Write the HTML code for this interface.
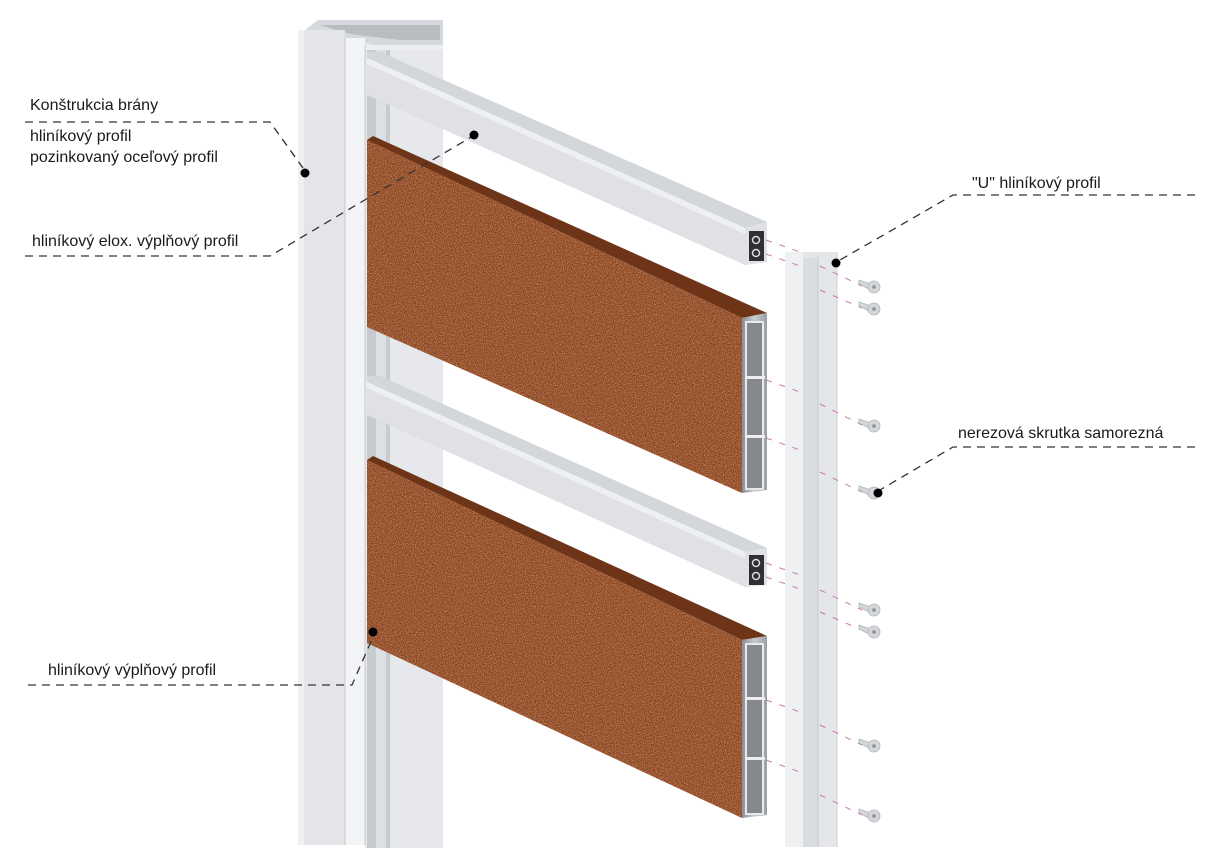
<!DOCTYPE html>
<html><head><meta charset="utf-8"><style>
html,body{margin:0;padding:0;background:#fff;}
svg{display:block;}
text{font-family:"Liberation Sans",sans-serif;font-size:16px;fill:#1a1a1a;}
</style></head><body>
<svg width="1224" height="864" viewBox="0 0 1224 864" xmlns="http://www.w3.org/2000/svg">
<defs>
<filter id="rust" x="0" y="0" width="100%" height="100%">
<feTurbulence type="fractalNoise" baseFrequency="0.9" numOctaves="2" seed="3" result="n"/>
<feColorMatrix in="n" type="matrix" values="0 0 0 0 0.72  0 0 0 0 0.36  0 0 0 0 0.16  0 0 0 1.4 -0.55" result="c"/>
<feComposite in="c" in2="SourceGraphic" operator="in" result="d"/>
<feMerge><feMergeNode in="SourceGraphic"/><feMergeNode in="d"/></feMerge>
</filter>
<linearGradient id="endg" x1="0" x2="1"><stop offset="0" stop-color="#8a8d92"/><stop offset="0.5" stop-color="#c9ccd0"/><stop offset="1" stop-color="#9a9da2"/></linearGradient>
</defs>

<!-- back post -->
<rect x="365" y="40" width="78" height="808" fill="#e6e8eb"/>
<rect x="367" y="40" width="23" height="808" fill="#c7cacf"/>
<rect x="376" y="40" width="10" height="808" fill="#dcdfe3"/>
<!-- post cap -->
<polygon points="305,30 318,20 443,20 443,45 360,45 345,40" fill="#d5d8dc"/>
<polygon points="320,25 440,25 440,40 400,40 350,34" fill="#b9bcc1"/>
<polygon points="345,40 375,45 443,45 443,50 360,50" fill="#eceef0"/>
<!-- front post -->
<rect x="298" y="30" width="47" height="815" fill="#e3e5e8"/>
<rect x="298" y="30" width="6" height="815" fill="#eef0f2"/>
<rect x="345" y="38" width="20" height="807" fill="#f3f4f6"/>
<line x1="345" y1="38" x2="345" y2="845" stroke="#c4c7cb" stroke-width="1"/>
<line x1="365" y1="45" x2="365" y2="845" stroke="#c4c7cb" stroke-width="1"/>

<!-- top rail -->
<polygon points="367,52 380,52 767,222 745,228 367,58" fill="#d3d6da"/>
<polygon points="367,58 745,228 745,265 367,95" fill="#dfe1e4"/>
<polygon points="367,58 745,228 745,234 367,64" fill="#eef0f2"/>
<polygon points="745,228 767,222 767,262 745,265" fill="#dfe1e4"/>
<rect x="749" y="231" width="15" height="30" fill="#2d2f33"/>
<circle cx="756" cy="240" r="3.5" fill="none" stroke="#ddd" stroke-width="1.5"/>
<circle cx="756" cy="253" r="3.5" fill="none" stroke="#ddd" stroke-width="1.5"/>

<!-- panel 1 -->
<polygon points="367,140 373,136 767,313 742,318" fill="#6e3418"/>
<polygon points="367,140 742,318 742,493 367,327" fill="#8a4320" filter="url(#rust)"/>
<polygon points="742,318 767,313 767,490 742,493" fill="url(#endg)"/>
<rect x="746" y="322" width="17" height="167" fill="#85898e"/>
<rect x="746" y="322" width="17" height="167" fill="none" stroke="#e8e9eb" stroke-width="2"/>
<rect x="745" y="376" width="20" height="3" fill="#eceef0"/>
<rect x="745" y="435" width="20" height="3" fill="#eceef0"/>

<!-- middle rail -->
<polygon points="367,376 380,376 767,548 745,552 367,382" fill="#d3d6da"/>
<polygon points="367,382 745,552 745,587 367,415" fill="#dfe1e4"/>
<polygon points="367,382 745,552 745,558 367,388" fill="#eef0f2"/>
<polygon points="745,552 767,548 767,585 745,587" fill="#dfe1e4"/>
<rect x="749" y="555" width="15" height="30" fill="#2d2f33"/>
<circle cx="756" cy="563" r="3.5" fill="none" stroke="#ddd" stroke-width="1.5"/>
<circle cx="756" cy="576" r="3.5" fill="none" stroke="#ddd" stroke-width="1.5"/>

<!-- panel 2 -->
<polygon points="367,460 373,456 767,636 742,640" fill="#6e3418"/>
<polygon points="367,460 742,640 742,818 367,643" fill="#8a4320" filter="url(#rust)"/>
<polygon points="742,640 767,636 767,815 742,818" fill="url(#endg)"/>
<rect x="746" y="644" width="17" height="170" fill="#85898e"/>
<rect x="746" y="644" width="17" height="170" fill="none" stroke="#e8e9eb" stroke-width="2"/>
<rect x="745" y="697" width="20" height="3" fill="#eceef0"/>
<rect x="745" y="757" width="20" height="3" fill="#eceef0"/>

<!-- U profile -->
<rect x="785" y="252" width="52" height="595" fill="#e4e6e9"/>
<rect x="785" y="252" width="18" height="595" fill="#eef0f2"/>
<rect x="803" y="258" width="15" height="589" fill="#d9dce0"/>
<line x1="818" y1="255" x2="818" y2="847" stroke="#c8cbcf"/>
<line x1="837" y1="252" x2="837" y2="847" stroke="#cfd2d6"/>

<!-- pink dashed guides -->
<g stroke="#c77aa8" stroke-width="1" stroke-dasharray="6,8" fill="none">
<line x1="766" y1="240" x2="800" y2="252"/>
<line x1="766" y1="254" x2="800" y2="266"/>
<line x1="766" y1="380" x2="800" y2="392"/>
<line x1="766" y1="438" x2="800" y2="450"/>
<line x1="766" y1="563" x2="800" y2="575"/>
<line x1="766" y1="577" x2="800" y2="589"/>
<line x1="766" y1="700" x2="800" y2="712"/>
<line x1="766" y1="760" x2="800" y2="772"/>
<line x1="820" y1="266" x2="862" y2="286"/>
<line x1="820" y1="290" x2="862" y2="308"/>
<line x1="820" y1="404" x2="862" y2="425"/>
<line x1="820" y1="472" x2="862" y2="492"/>
<line x1="820" y1="590" x2="862" y2="610"/>
<line x1="820" y1="612" x2="862" y2="630"/>
<line x1="820" y1="725" x2="862" y2="745"/>
<line x1="820" y1="795" x2="862" y2="815"/>
</g>

<!-- screws -->
<g fill="#d4d6da" stroke="#b0b3b8" stroke-width="0.8">
<g transform="translate(874,287)"><polygon points="-15,-7 -3,-3 -3,3 -15,-3"/><circle r="6"/><circle r="1.8" fill="#8a8d92"/></g>
<g transform="translate(874,309)"><polygon points="-15,-7 -3,-3 -3,3 -15,-3"/><circle r="6"/><circle r="1.8" fill="#8a8d92"/></g>
<g transform="translate(874,426)"><polygon points="-15,-7 -3,-3 -3,3 -15,-3"/><circle r="6"/><circle r="1.8" fill="#8a8d92"/></g>
<g transform="translate(874,493)"><polygon points="-15,-7 -3,-3 -3,3 -15,-3"/><circle r="6"/></g>
<g transform="translate(874,610)"><polygon points="-15,-7 -3,-3 -3,3 -15,-3"/><circle r="6"/><circle r="1.8" fill="#8a8d92"/></g>
<g transform="translate(874,632)"><polygon points="-15,-7 -3,-3 -3,3 -15,-3"/><circle r="6"/><circle r="1.8" fill="#8a8d92"/></g>
<g transform="translate(874,746)"><polygon points="-15,-7 -3,-3 -3,3 -15,-3"/><circle r="6"/><circle r="1.8" fill="#8a8d92"/></g>
<g transform="translate(874,816)"><polygon points="-15,-7 -3,-3 -3,3 -15,-3"/><circle r="6"/><circle r="1.8" fill="#8a8d92"/></g>
</g>

<!-- leaders -->
<g stroke="#333" stroke-width="1.3" stroke-dasharray="8,6" fill="none">
<polyline points="25,122 270,122 303,168"/>
<polyline points="25,256 270,256 473,136"/>
<polyline points="28,685 352,685 373,637"/>
<polyline points="1195,195 953,195 840,260"/>
<polyline points="1195,447 953,447 880,490"/>
</g>
<g fill="#000">
<circle cx="305" cy="173" r="4.5"/>
<circle cx="474" cy="135" r="4.5"/>
<circle cx="373" cy="632" r="4.5"/>
<circle cx="836" cy="263" r="4.5"/>
<circle cx="878" cy="493" r="4.5"/>
</g>

<text x="30" y="110">Konštrukcia brány</text>
<text x="30" y="141">hliníkový profil</text>
<text x="30" y="162">pozinkovaný oceľový profil</text>
<text x="32" y="246">hliníkový elox. výplňový profil</text>
<text x="48" y="675">hliníkový výplňový profil</text>
<text x="972" y="188">"U" hliníkový profil</text>
<text x="958" y="438">nerezová skrutka samorezná</text>
</svg>
</body></html>
